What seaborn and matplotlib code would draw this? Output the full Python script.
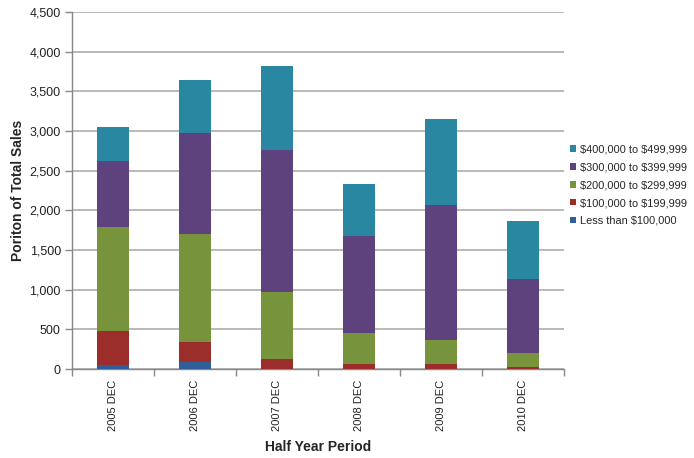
import numpy as np
import pandas as pd
import matplotlib
matplotlib.use("Agg")
import matplotlib.pyplot as plt
import seaborn as sns

periods = ["2005 DEC", "2006 DEC", "2007 DEC", "2008 DEC", "2009 DEC", "2010 DEC"]
under_100k = [50, 92, 5, 5, 5, 3]
from_100k = [429, 248, 121, 58, 58, 22]
from_200k = [1311, 1362, 844, 391, 302, 177]
from_300k = [832, 1273, 1790, 1222, 1702, 932]
from_400k = [428, 668, 1059, 656, 1084, 732]

series_names = [
    "Less than $100,000",
    "$100,000 to $199,999",
    "$200,000 to $299,999",
    "$300,000 to $399,999",
    "$400,000 to $499,999",
]
series_values = [under_100k, from_100k, from_200k, from_300k, from_400k]
colors = ["#2E5F99", "#9B2E2B", "#77933C", "#5D427D", "#2A87A1"]

sns.set_theme(style="white")
plt.rcParams["font.family"] = ["Liberation Sans", "DejaVu Sans"]
plt.rcParams["text.parse_math"] = False

fig = plt.figure(figsize=(6.94, 4.58), dpi=100)
ax = fig.add_axes([0.1037, 0.1943, 0.7090, 0.7795])

cum = np.cumsum(np.array(series_values), axis=0)
df = pd.DataFrame({"period": periods})
# draw the stacked totals from the top layer downwards so each layer shows
for i in range(len(series_names) - 1, -1, -1):
    df["total"] = cum[i]
    sns.barplot(data=df, x="period", y="total", color=colors[i], width=0.4,
                saturation=1, ax=ax, label=series_names[i], zorder=3,
                linewidth=0, edgecolor="none")

ax.set_ylim(0, 4500)
ax.set_xlim(-0.5, len(periods) - 0.5)
ax.set_yticks(np.arange(0, 4501, 500))
ax.set_yticklabels([f"{v:,}" for v in range(0, 4501, 500)], fontsize=9, color="#222222")
ax.xaxis.grid(False)
ax.yaxis.grid(True, color="#A6A6A6", linewidth=1.1, zorder=0)
ax.set_axisbelow(True)

ax.set_xticks(np.arange(len(periods)))
ax.set_xticklabels(periods, rotation=90, fontsize=8, color="#222222")
ax.tick_params(axis="x", length=0, pad=8)
# category boundary ticks
ax.set_xticks(np.arange(-0.5, len(periods)), minor=True)
ax.tick_params(axis="x", which="minor", length=5, color="#888888", width=1, direction="out", bottom=True)
ax.tick_params(axis="y", length=5, color="#888888", width=1, direction="out", left=True, pad=3)

for side in ["top", "right"]:
    ax.spines[side].set_visible(False)
for side in ["left", "bottom"]:
    ax.spines[side].set_color("#888888")
    ax.spines[side].set_linewidth(1)

ax.set_xlabel("Half Year Period", fontsize=10, fontweight="bold", labelpad=6)
ax.set_ylabel("Poriton of Total Sales", fontsize=10, fontweight="bold", labelpad=3)

handles, labels = ax.get_legend_handles_labels()
leg = ax.legend(handles, labels, loc="center left", bbox_to_anchor=(1.004, 0.515),
                frameon=False, fontsize=7.9, handlelength=0.55, handleheight=0.55,
                handletextpad=0.35, labelspacing=0.72, borderaxespad=0)

fig.savefig("out.png", dpi=100)
